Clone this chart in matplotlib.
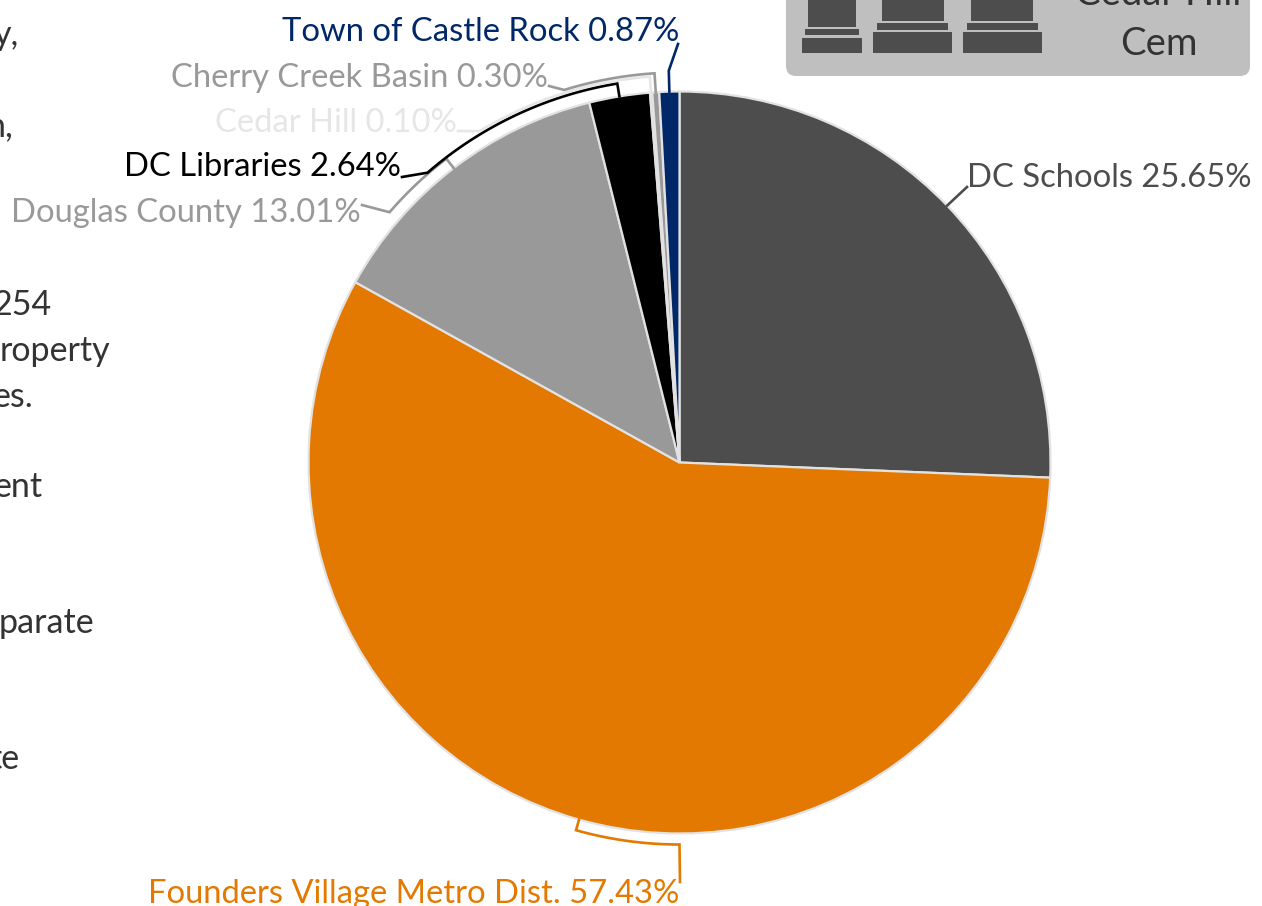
import numpy as np
import matplotlib
matplotlib.use('Agg')
import matplotlib.pyplot as plt
from matplotlib.patches import FancyBboxPatch, Rectangle

plt.rcParams['font.family'] = ['Lato', 'DejaVu Sans']

names = ['DC Schools', 'Founders Village Metro Dist.', 'Douglas County', 'DC Libraries',
         'Cedar Hill', 'Cherry Creek Basin', 'Town of Castle Rock']
shares = [25.65, 57.43, 13.01, 2.64, 0.10, 0.30, 0.87]
colors = ['#4d4d4d', '#e37900', '#999999', '#000000', '#e6e6e6', '#999999', '#002868']
left_text = ['y,', 'n,', '254', 'roperty', 'es.', 'ent', 'parate', 'te']

CX, CY, R = 679.5, 462.5, 371
FS = 23.6


def polar(deg, r):
    a = np.radians(deg)
    return CX + r * np.sin(a), CY - r * np.cos(a)


fig = plt.figure(figsize=(12.62, 9.06), dpi=100, facecolor='white')
ax = fig.add_axes([0, 0, 1, 1])

# y axis is flipped so the slices run clockwise from the top
ax.pie(shares, colors=colors, center=(CX, CY), radius=R, startangle=-90, counterclock=True,
       wedgeprops={'edgecolor': '#e2e2e2', 'linewidth': 1.6})
ax.set_xlim(0, 1262)
ax.set_ylim(906, 0)
ax.axis('off')

# mid angle of every slice, degrees clockwise from the top, negative = left of it
mids = (np.cumsum(shares) - np.array(shares) / 2) * 3.6
mids = np.where(mids > 90, mids - 360, mids)

# name: arc radius, end angle of arc, end of line, text x, text baseline
leaders = {
    'Town of Castle Rock': (None, None, (678, 44), 679, 41),
    'Cherry Creek Basin': (390, -17.2, (549, 86), 548, 87),
    'Cedar Hill': (387, -31.1, (458, 131), 457, 132),
    'DC Libraries': (384, -41.0, (402, 177), 401, 176),
    'Douglas County': (383, -49.2, (362, 205), 361, 222),
    'DC Schools': (None, None, (967, 187), 967, 187),
    'Founders Village Metro Dist.': (382, -180.0, (680, 882), 679, 903),
}

for i, name in enumerate(names):
    arc_r, arc_end, tip, tx, ty = leaders[name]
    mid = mids[i]
    start = polar(mid, R)
    if arc_r:
        pts = [polar(a, arc_r) for a in np.linspace(mid, arc_end, 60)]
    elif name == 'Town of Castle Rock':
        pts = [polar(mid, R + 21)]
    else:
        pts = []
    xs = [start[0]] + [p[0] for p in pts] + [tip[0]]
    ys = [start[1]] + [p[1] for p in pts] + [tip[1]]
    ax.plot(xs, ys, color=colors[i], lw=1.9, solid_joinstyle='miter', zorder=1 + i / 10)
    ha = 'left' if name == 'DC Schools' else 'right'
    ax.text(tx, ty, '%s %.2f%%' % (name, shares[i]), color=colors[i], fontsize=FS,
            ha=ha, va='baseline')

# legend panel, cut by the top of the picture
ax.add_patch(FancyBboxPatch((786, -40), 464, 116, boxstyle='round,pad=0,rounding_size=10',
                            fc='#bfbfbf', ec='none', zorder=2))

stones = [
    ((808, 856), (805, 859), (802, 862), 27, 29, 35, 38),
    ((882, 944), (877, 948), (873, 952), 21, 23, 30, 32),
    ((971, 1033), (967, 1038), (963, 1042), 21, 23, 30, 32),
]
for top, step, base, top_end, step_y0, step_y1, base_y0 in stones:
    ax.add_patch(Rectangle((top[0], -5), top[1] - top[0], top_end + 5, fc='#4d4d4d', zorder=3))
    ax.add_patch(Rectangle((step[0], step_y0), step[1] - step[0], step_y1 - step_y0, fc='#4d4d4d', zorder=3))
    ax.add_patch(Rectangle((base[0], base_y0), base[1] - base[0], 53 - base_y0, fc='#4d4d4d', zorder=3))

ax.text(1158, 5, 'Cedar Hill', color='#333333', fontsize=27.5, ha='center', va='baseline', zorder=4)
ax.text(1159, 55, 'Cem', color='#333333', fontsize=27.5, ha='center', va='baseline', zorder=4)

# body text cut by the left edge
left_x = [19, 13, 51, 110, 33, 43, 94, 19]
left_y = [45, 136, 315, 361, 407, 497, 633, 769]
for s, x, y in zip(left_text, left_x, left_y):
    ax.text(x, y, s, color='#333333', fontsize=24.5, ha='right', va='baseline')

fig.savefig('out.png', dpi=100)
